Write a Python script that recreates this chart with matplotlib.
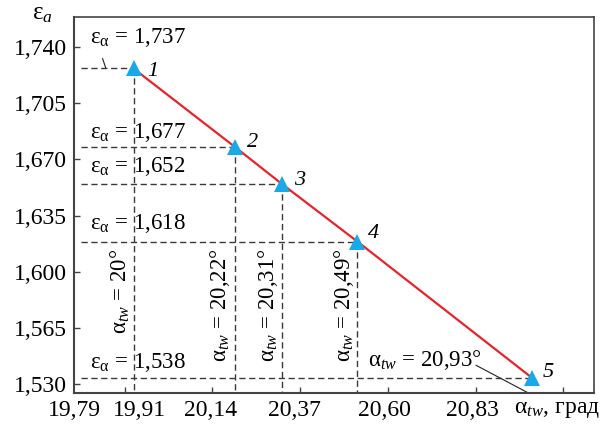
import matplotlib
matplotlib.use("Agg")
import matplotlib.pyplot as plt

plt.rcParams['font.family'] = ['Liberation Serif', 'DejaVu Serif']
plt.rcParams['mathtext.fontset'] = 'custom'
plt.rcParams['mathtext.rm'] = 'Liberation Serif'
plt.rcParams['mathtext.it'] = 'Liberation Serif:italic'

# ---- data ----
point_ids = ['1', '2', '3', '4', '5']
alpha_tw = [19.933, 20.199, 20.321, 20.520, 20.977]      # x position of points
eps_a = [1.7264, 1.6776, 1.6548, 1.6188, 1.5342]         # y position of points
eps_labels = ['1,737', '1,677', '1,652', '1,618', '1,538']
alpha_labels = ['20°', '20,22°', '20,31°', '20,49°', '20,93°']

x_tick_marks = [19.91, 20.14, 20.37, 20.60, 20.83, 21.06]
x_label_pos = [19.777, 19.948, 20.136, 20.356, 20.591, 20.821]
x_label_txt = ['19,79', '19,91', '20,14', '20,37', '20,60', '20,83']
y_ticks = [1.740, 1.705, 1.670, 1.635, 1.600, 1.565, 1.530]
y_tick_txt = ['1,740', '1,705', '1,670', '1,635', '1,600', '1,565', '1,530']

XMIN, XMAX = 19.7963, 21.140
YMIN, YMAX = 1.5247, 1.7584

TICK_FS = 17
ANN_FS = 16.5

fig = plt.figure(figsize=(6.11, 4.28), dpi=100)
ax = fig.add_axes([74/611, 35/428, 520/611, 376/428])
ax.set_xlim(XMIN, XMAX)
ax.set_ylim(YMIN, YMAX)

dash_col = '#3a3a3a'
dash_kw = dict(color=dash_col, lw=1.0, dashes=(4.5, 2.6), zorder=1)

# dashed guide lines
for i, (x, y) in enumerate(zip(alpha_tw, eps_a)):
    ax.plot([XMIN, x], [y, y], **dash_kw)
    if i < 4:
        ax.plot([x, x], [y, YMIN], **dash_kw)

# red line and markers
ax.plot(alpha_tw, eps_a, color='#e8232b', lw=1.6, zorder=2)
ax.plot(alpha_tw, eps_a, linestyle='none', marker='^', markersize=11,
        color='#18a9e6', markeredgewidth=0, zorder=3)

# point numbers
offsets = [(19, -3), (18, 4), (18, 3), (16, 8), (16, 5)]
for pid, x, y, off in zip(point_ids, alpha_tw, eps_a, offsets):
    ax.annotate(pid, (x, y), xytext=off, textcoords='offset pixels',
                fontsize=16, fontstyle='italic', ha='center', va='center')

# epsilon annotations (left side)
eps_text_y = [1.7422, 1.6833, 1.6618, 1.6269, 1.5401]
for lab, ty in zip(eps_labels, eps_text_y):
    ax.text(19.820, ty, 'ε$_{\\mathrm{α}}$ = ' + lab, fontsize=ANN_FS,
            ha='left', va='baseline', zorder=4)

# leader for the top annotation
ax.plot([19.852, 19.860], [1.7325, 1.7269], color='#222222', lw=0.8)

# vertical alpha annotations
alpha_text_x = [19.8997, 20.1607, 20.2847, 20.4837]
for lab, tx in zip(alpha_labels[:4], alpha_text_x):
    ax.text(tx, 1.6145, 'α$_{tw}$ = ' + lab, rotation=90, fontsize=ANN_FS,
            ha='center', va='top', zorder=4)

# horizontal alpha annotation for point 5 with leader
ax.text(20.548, 1.5416, 'α$_{tw}$ = ' + alpha_labels[4], fontsize=ANN_FS,
        ha='left', va='baseline', zorder=4)
ax.plot([20.831, 20.968], [1.5419, YMIN], color='#222222', lw=0.8)

# axes styling
for s in ['left', 'bottom']:
    ax.spines[s].set_linewidth(1.5)
    ax.spines[s].set_color('#444444')
for s in ['top', 'right']:
    ax.spines[s].set_linewidth(1.2)
    ax.spines[s].set_color('#444444')

ax.set_xticks(x_tick_marks)
ax.set_xticklabels([])
ax.set_xticks(x_label_pos, minor=True)
ax.set_xticklabels(x_label_txt, minor=True, fontsize=TICK_FS)
ax.tick_params(axis='x', which='major', direction='in', length=4, width=1,
               color='#444444')
ax.tick_params(axis='x', which='minor', length=0, pad=5)

ax.set_yticks(y_ticks)
ax.set_yticklabels(y_tick_txt, fontsize=TICK_FS)
ax.tick_params(axis='y', which='major', direction='in', length=4, width=1,
               color='#444444', pad=5)
ax.tick_params(axis='y', which='minor', left=False)

# axis titles
fig.text(42/611, 1 - 14/428, 'ε$_{a}$', fontsize=18, ha='center', va='center')
fig.text(557/611, 1 - 410/428, 'α$_{tw}$, град', fontsize=TICK_FS,
         ha='center', va='center')

fig.savefig('out.png', dpi=100)
